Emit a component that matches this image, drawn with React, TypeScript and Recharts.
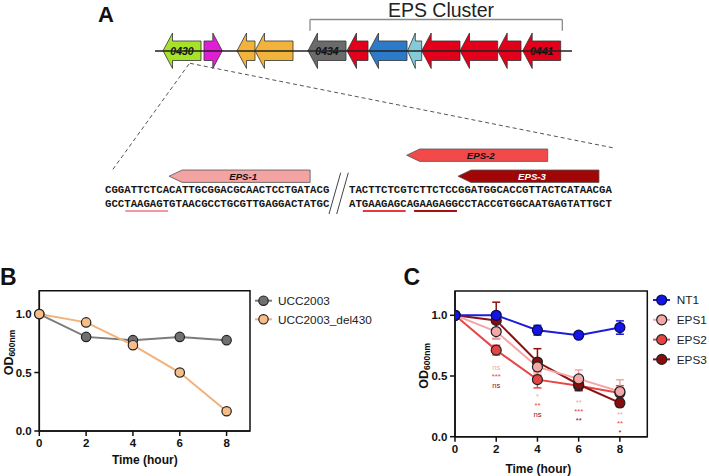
import React from 'react';
import {
  ComposedChart,
  LineChart,
  Line,
  XAxis,
  YAxis,
  ReferenceArea,
  ReferenceLine,
  ReferenceDot,
  ErrorBar,
} from 'recharts';

const FONT = '"Liberation Sans", Arial, Helvetica, sans-serif';
const MONO = '"Liberation Mono", "Courier New", monospace';

// ---- panel A: gene map ----
const geneStart = [163, 204, 237, 255, 308, 347, 369, 407.5, 421.7, 460, 497.7, 522.7];
const geneEnd = [201, 222.3, 255, 293, 346, 368, 407, 421.7, 460, 497.7, 521, 560.7];
const geneForward = [false, true, false, false, false, false, false, false, false, false, false, false];
const geneLabel = ['0430', '', '', '', '0434', '', '', '', '', '', '', '0441'];
const GENE_COLORS = [
  '#a6e22b', '#e01ed6', '#f1b33c', '#f1b33c', '#6b6b6b', '#e2001b',
  '#2d7bc8', '#86cad8', '#e2001b', '#e2001b', '#e2001b', '#e2001b',
];

const seqLeft = ['CGGATTCTCACATTGCGGACGCAACTCCTGATACG', 'GCCTAAGAGTGTAACGCCTGCGTTGAGGACTATGC'];
const seqRight = ['TACTTCTCGTCTTCTCCGGATGGCACCGTTACTCATAACGA', 'ATGAAGAGCAGAAGAGGCCTACCGTGGCAATGAGTATTGCT'];

const primerNames = ['EPS-1', 'EPS-2', 'EPS-3'];
const primerBlock = [0, 1, 1];
const primerFrom = [10, 9, 17];
const primerTo = [32, 31, 39];
const primerTier = [0, 1, 0];
const PRIMER_FILL = ['#f4a3a3', '#f24a4a', '#a10606'];
const PRIMER_TEXT = ['#111', '#111', '#fff'];

const guideBlock = [0, 1, 1];
const guideFrom = [3, 2, 10];
const guideTo = [10, 9, 17];
const GUIDE_COLORS = ['#f49a9a', '#e83a3a', '#a51010'];

// ---- panel B ----
const hours = [0, 2, 4, 6, 8];
const seriesB = ['UCC2003', 'UCC2003_del430'];
const ucc2003 = [1.0, 0.805, 0.777, 0.805, 0.777];
const del430 = [1.0, 0.929, 0.734, 0.5, 0.169];

// ---- panel C ----
const seriesC = ['NT1', 'EPS1', 'EPS2', 'EPS3'];
const nt1 = [1.0, 1.0, 0.877, 0.836, 0.899];
const nt1Err = [0, 0.012, 0.04, 0.025, 0.055];
const eps1 = [1.0, 0.866, 0.575, 0.476, 0.372];
const eps1Err = [0, 0.06, 0.05, 0.074, 0.097];
const eps2 = [1.0, 0.713, 0.47, 0.42, 0.36];
const eps2Err = [0, 0.04, 0.068, 0.04, 0.06];
const eps3 = [1.0, 0.958, 0.615, 0.43, 0.278];
const eps3Err = [0, 0.15, 0.11, 0.05, 0.03];
const sigEPS1 = ['', 'ns', '*', '**', '**'];
const sigEPS2 = ['', '***', '**', '***', '**'];
const sigEPS3 = ['', 'ns', 'ns', '**', '*'];

const yTicks = [0, 0.5, 1.0];

const bData = hours.map((t, i) => ({ t, ucc: ucc2003[i], del: del430[i] }));
const cData = hours.map((t, i) => ({
  t,
  nt1: nt1[i], nt1Err: nt1Err[i],
  eps1: eps1[i], eps1Err: eps1Err[i],
  eps2: eps2[i], eps2Err: eps2Err[i],
  eps3: eps3[i], eps3Err: eps3Err[i],
}));
// annotations hang under the lowest mutant mean at each time point
const sigBase = hours.map((_, i) => Math.min(eps1[i], eps2[i], eps3[i]));

const C_COLORS = {
  nt1: { line: '#1c1cdc', fill: '#1414e6', stroke: '#0a0a50' },
  eps1: { line: '#f4a6a6', fill: '#f3a7a7', stroke: '#222' },
  eps2: { line: '#e84646', fill: '#e54444', stroke: '#222' },
  eps3: { line: '#8e1010', fill: '#8a0c0c', stroke: '#222' },
};
const B_COLORS = {
  ucc: { line: '#7c7c7c', fill: '#707070', stroke: '#222' },
  del: { line: '#f2b27c', fill: '#f7bd88', stroke: '#222' },
};

const CHAR_W = 6.41;
const BLOCK_X = [105, 349];
const ROW_BASE = [192.6, 206.9];

const charX = (block: number, idx: number) => BLOCK_X[block] + idx * CHAR_W;

const geneRows = geneStart.map((s, i) => ({ start: s, end: geneEnd[i] }));

const geneArrow = (i: number) => (p: any) => {
  const { x, y, width: w, height: h } = p;
  const cy = y + h / 2;
  const bh = h * 0.55;
  const bt = cy - bh / 2;
  const bb = cy + bh / 2;
  const hl = Math.min(9.5, w * 0.55);
  const pts = geneForward[i]
    ? [[x, bt], [x + w - hl, bt], [x + w - hl, y], [x + w, cy], [x + w - hl, y + h], [x + w - hl, bb], [x, bb]]
    : [[x, cy], [x + hl, y], [x + hl, bt], [x + w, bt], [x + w, bb], [x + hl, bb], [x + hl, y + h]];
  return (
    <g>
      <polygon
        points={pts.map((q) => q.join(',')).join(' ')}
        fill={GENE_COLORS[i]}
        stroke="#333"
        strokeWidth={0.8}
        strokeLinejoin="round"
      />
      {geneLabel[i] ? (
        <text x={x + w / 2} y={cy + 3.8} textAnchor="middle" fontSize={10.5} fontStyle="italic"
          fontWeight="bold" fill="#111" fontFamily={FONT}>{geneLabel[i]}</text>
      ) : null}
    </g>
  );
};

const primerArrow = (i: number) => (p: any) => {
  const { x, y, width: w, height: h } = p;
  const hl = 13;
  const pts = [[x, y + h / 2], [x + hl, y], [x + w, y], [x + w, y + h], [x + hl, y + h]];
  return (
    <g>
      <polygon points={pts.map((q) => q.join(',')).join(' ')} fill={PRIMER_FILL[i]} stroke="#555" strokeWidth={0.8} />
      <text x={x + w / 2 + 3.5} y={y + h / 2 + 3.4} textAnchor="middle" fontSize={9.6} fontStyle="italic"
        fontWeight="bold" fill={PRIMER_TEXT[i]} fontFamily={FONT}>{primerNames[i]}</text>
    </g>
  );
};

const textAt = (content: string, opts: any) => (p: any) => (
  <text x={p.cx} y={p.cy} {...opts}>{content}</text>
);

function GeneMap() {
  const blocks = [seqLeft, seqRight];
  return (
    <ComposedChart width={709} height={230} data={geneRows} margin={{ top: 0, right: 0, bottom: 0, left: 0 }}>
      <XAxis type="number" dataKey="start" domain={[0, 709]} allowDataOverflow hide />
      <YAxis type="number" domain={[0, 230]} allowDataOverflow reversed hide />

      {/* panel letter and cluster bracket */}
      <ReferenceDot x={106} y={22} r={0}
        shape={textAt('A', { textAnchor: 'middle', fontSize: 22, fontWeight: 'bold', fill: '#111', fontFamily: FONT })} />
      <ReferenceDot x={441} y={17.3} r={0}
        shape={textAt('EPS Cluster', { textAnchor: 'middle', fontSize: 19.5, fill: '#222', fontFamily: FONT })} />
      <ReferenceLine segment={[{ x: 310, y: 19.5 }, { x: 562.3, y: 19.5 }]} stroke="#8a8a8a" strokeWidth={1.3} />
      <ReferenceLine segment={[{ x: 310, y: 19.5 }, { x: 310, y: 30.7 }]} stroke="#8a8a8a" strokeWidth={1.3} />
      <ReferenceLine segment={[{ x: 562.3, y: 19.5 }, { x: 562.3, y: 30.7 }]} stroke="#8a8a8a" strokeWidth={1.3} />

      {/* backbone and genes */}
      <ReferenceLine segment={[{ x: 155, y: 51 }, { x: 572, y: 51 }]} stroke="#222" strokeWidth={1.5} />
      {geneRows.map((g, i) => (
        <ReferenceArea key={`g${i}`} x1={g.start} x2={g.end} y1={33} y2={68.5} shape={geneArrow(i)} />
      ))}

      {/* zoom-in dashed lines */}
      <ReferenceLine segment={[{ x: 189, y: 64 }, { x: 111.7, y: 171 }]} stroke="#555" strokeWidth={1} strokeDasharray="4 3" />
      <ReferenceLine segment={[{ x: 190, y: 63.3 }, { x: 614, y: 148 }]} stroke="#555" strokeWidth={1} strokeDasharray="4 3" />

      {/* primers */}
      {primerNames.map((n, i) => {
        const y1 = primerTier[i] === 0 ? 170 : 149;
        return (
          <ReferenceArea key={n} x1={charX(primerBlock[i], primerFrom[i])} x2={charX(primerBlock[i], primerTo[i])}
            y1={y1} y2={y1 + 12.4} shape={primerArrow(i)} />
        );
      })}

      {/* sequences */}
      {blocks.map((rows, b) =>
        rows.map((s, r) => (
          <ReferenceDot key={`s${b}${r}`} x={BLOCK_X[b]} y={ROW_BASE[r]} r={0}
            shape={textAt(s, {
              fontSize: 10.68, fontWeight: 'bold', fill: '#151515', fontFamily: MONO,
              textLength: s.length * CHAR_W, lengthAdjust: 'spacingAndGlyphs',
            })} />
        ))
      )}

      {/* guide underlines */}
      {guideFrom.map((f, i) => (
        <ReferenceLine key={`u${i}`}
          segment={[{ x: charX(guideBlock[i], f) + 1, y: 211 }, { x: charX(guideBlock[i], guideTo[i]) - 1, y: 211 }]}
          stroke={GUIDE_COLORS[i]} strokeWidth={2} />
      ))}

      {/* break marks */}
      <ReferenceLine segment={[{ x: 340.7, y: 172.7 }, { x: 329, y: 214 }]} stroke="#444" strokeWidth={1} />
      <ReferenceLine segment={[{ x: 348.3, y: 172.7 }, { x: 336.7, y: 214 }]} stroke="#444" strokeWidth={1} />
    </ComposedChart>
  );
}

const axisStyle = { stroke: '#111', strokeWidth: 1.5 };
const tickFont = { fontSize: 11.5, fontWeight: 'bold', fill: '#111', fontFamily: FONT };

const YTitle = ({ x, y }: { x: number; y: number }) => (
  <text x={x} y={y} transform={`rotate(-90 ${x} ${y})`} textAnchor="middle" fontFamily={FONT} fontWeight="bold" fill="#111">
    <tspan fontSize={12.5}>OD</tspan>
    <tspan fontSize={8.5} dy={2.5}>600nm</tspan>
  </text>
);

const XTitle = ({ x, y }: { x: number; y: number }) => (
  <text x={x} y={y} textAnchor="middle" fontFamily={FONT} fontWeight="bold" fontSize={12} fill="#111">
    Time (hour)
  </text>
);

function PanelB() {
  return (
    <LineChart width={360} height={236} data={bData} margin={{ top: 50.7, right: 110, bottom: 0, left: 0 }}>
      <XAxis dataKey="t" type="number" domain={[0, 9]} ticks={hours} interval={0} height={45}
        axisLine={axisStyle} tickLine={axisStyle} tickSize={5} tickMargin={3} tick={tickFont}
        label={() => <XTitle x={144.8} y={224.3} />} />
      <YAxis type="number" domain={[0, 1.2]} ticks={yTicks} interval={0} width={39.3}
        tickFormatter={(v: number) => v.toFixed(1)} axisLine={axisStyle} tickLine={axisStyle}
        tickSize={5} tickMargin={2.6} tick={tickFont}
        label={() => <YTitle x={12.7} y={112.5} />} />
      <ReferenceArea x1={0} x2={9} y1={0} y2={1.2} fill="none" stroke="#111" strokeWidth={1.5} />
      <Line dataKey="ucc" stroke={B_COLORS.ucc.line} strokeWidth={2} isAnimationActive={false}
        dot={{ r: 4.7, fill: B_COLORS.ucc.fill, stroke: B_COLORS.ucc.stroke, strokeWidth: 1.2 }} activeDot={false} />
      <Line dataKey="del" stroke={B_COLORS.del.line} strokeWidth={2} isAnimationActive={false}
        dot={{ r: 4.7, fill: B_COLORS.del.fill, stroke: B_COLORS.del.stroke, strokeWidth: 1.2 }} activeDot={false} />
    </LineChart>
  );
}

const C_AXIS_Y = 196.7; // x-axis line, in chart pixels
const SIG_STEP = 9;
const sigShape = (i: number) => (p: any) => {
  const labels = [sigEPS1[i], sigEPS2[i], sigEPS3[i]];
  const cols = [C_COLORS.eps1.line, C_COLORS.eps2.line, C_COLORS.eps3.line];
  const first = Math.min(p.cy + 16.5, C_AXIS_Y - 2 * SIG_STEP - 5);
  return (
    <g>
      {labels.map((s, k) => (
        <text key={k} x={p.cx} y={first + k * SIG_STEP + 3.2} textAnchor="middle"
          fontSize={7.6} fill={cols[k]} fontFamily={FONT}>{s}</text>
      ))}
    </g>
  );
};

function PanelC() {
  const series: Array<keyof typeof C_COLORS> = ['eps2', 'eps3', 'eps1', 'nt1'];
  return (
    <LineChart width={349} height={236} data={cData} margin={{ top: 51, right: 61.7, bottom: 0, left: 0 }}>
      <XAxis dataKey="t" type="number" domain={[0, 9.33]} ticks={hours} interval={0} height={39.3}
        allowDataOverflow axisLine={axisStyle} tickLine={axisStyle} tickSize={5} tickMargin={3} tick={tickFont}
        label={() => <XTitle x={178.3} y={232.6} />} />
      <YAxis type="number" domain={[0, 1.2]} ticks={yTicks} interval={0} width={95}
        tickFormatter={(v: number) => v.toFixed(1)} axisLine={axisStyle} tickLine={axisStyle}
        tickSize={5} tickMargin={2.6} tick={tickFont}
        label={() => <YTitle x={68} y={125.8} />} />
      <ReferenceArea x1={0} x2={9.33} y1={0} y2={1.2} fill="none" stroke="#111" strokeWidth={1.5} />
      {series.map((k) => (
        <Line key={k} dataKey={k} stroke={C_COLORS[k].line} strokeWidth={2} isAnimationActive={false}
          dot={{ r: 5, fill: C_COLORS[k].fill, stroke: C_COLORS[k].stroke, strokeWidth: 1.2 }} activeDot={false}>
          <ErrorBar dataKey={`${k}Err`} width={4} strokeWidth={1.5} stroke={C_COLORS[k].line} direction="y" />
        </Line>
      ))}
      {hours.map((t, i) =>
        sigEPS1[i] ? <ReferenceDot key={`sig${t}`} x={t} y={sigBase[i]} r={0} shape={sigShape(i)} /> : null
      )}
    </LineChart>
  );
}

function Overlay() {
  const bCols = [B_COLORS.ucc, B_COLORS.del];
  const cCols = [C_COLORS.nt1, C_COLORS.eps1, C_COLORS.eps2, C_COLORS.eps3];
  return (
    <svg width={709} height={476} style={{ position: 'absolute', left: 0, top: 0, pointerEvents: 'none' }}>
      <text x={0} y={285} fontSize={23} fontWeight="bold" fill="#111" fontFamily={FONT}>B</text>
      <text x={403.5} y={285} fontSize={23} fontWeight="bold" fill="#111" fontFamily={FONT}>C</text>
      {seriesB.map((n, i) => {
        const y = 300.7 + i * 18.6;
        return (
          <g key={n}>
            <line x1={255} x2={272} y1={y} y2={y} stroke={bCols[i].line} strokeWidth={2} />
            <circle cx={263.5} cy={y} r={4.7} fill={bCols[i].fill} stroke={bCols[i].stroke} strokeWidth={1.2} />
            <text x={278} y={y + 4.2} fontSize={11.8} fill="#222" fontFamily={FONT}>{n}</text>
          </g>
        );
      })}
      {seriesC.map((n, i) => {
        const y = 300 + i * 19.8;
        return (
          <g key={n}>
            <line x1={653} x2={670} y1={y} y2={y} stroke={cCols[i].line} strokeWidth={2} />
            <circle cx={661.7} cy={y} r={5} fill={cCols[i].fill} stroke={cCols[i].stroke} strokeWidth={1.2} />
            <text x={676.7} y={y + 4.2} fontSize={11.8} fill="#222" fontFamily={FONT}>{n}</text>
          </g>
        );
      })}
    </svg>
  );
}

export default function App() {
  return (
    <div style={{ position: 'absolute', left: 0, top: 0, width: 709, height: 476, background: '#fff', fontFamily: FONT }}>
      <div style={{ position: 'absolute', left: 0, top: 0 }}>
        <GeneMap />
      </div>
      <div style={{ position: 'absolute', left: 0, top: 240 }}>
        <PanelB />
      </div>
      <div style={{ position: 'absolute', left: 360, top: 240 }}>
        <PanelC />
      </div>
      <Overlay />
    </div>
  );
}
